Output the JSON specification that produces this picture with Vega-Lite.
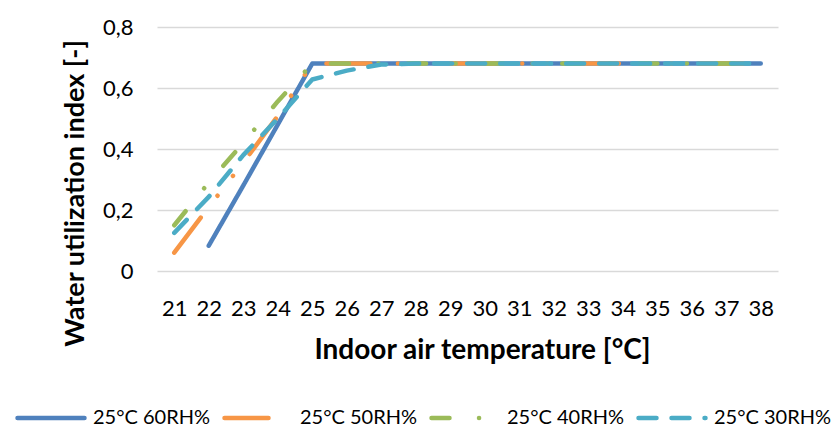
{
  "$schema": "https://vega.github.io/schema/vega-lite/v6.json",
  "width": 621,
  "height": 244,
  "autosize": {"type": "none"},
  "padding": {"left": 157, "top": 27, "right": 60, "bottom": 174},
  "background": "white",
  "config": {
    "font": "Lato",
    "view": {"stroke": null},
    "axis": {"labelFont": "Lato", "titleFont": "Lato", "labelColor": "#000", "titleColor": "#000"}
  },
  "data": {
    "values": [
      {"t": 22, "s": "25°C 60RH%", "v": 0.083},
      {"t": 23, "s": "25°C 60RH%", "v": 0.28},
      {"t": 24, "s": "25°C 60RH%", "v": 0.48},
      {"t": 25, "s": "25°C 60RH%", "v": 0.68},
      {"t": 26, "s": "25°C 60RH%", "v": 0.68},
      {"t": 27, "s": "25°C 60RH%", "v": 0.68},
      {"t": 28, "s": "25°C 60RH%", "v": 0.68},
      {"t": 29, "s": "25°C 60RH%", "v": 0.68},
      {"t": 30, "s": "25°C 60RH%", "v": 0.68},
      {"t": 31, "s": "25°C 60RH%", "v": 0.68},
      {"t": 32, "s": "25°C 60RH%", "v": 0.68},
      {"t": 33, "s": "25°C 60RH%", "v": 0.68},
      {"t": 34, "s": "25°C 60RH%", "v": 0.68},
      {"t": 35, "s": "25°C 60RH%", "v": 0.68},
      {"t": 36, "s": "25°C 60RH%", "v": 0.68},
      {"t": 37, "s": "25°C 60RH%", "v": 0.68},
      {"t": 38, "s": "25°C 60RH%", "v": 0.68},
      {"t": 21, "s": "25°C 50RH%", "v": 0.06},
      {"t": 22, "s": "25°C 50RH%", "v": 0.21},
      {"t": 23, "s": "25°C 50RH%", "v": 0.355},
      {"t": 24, "s": "25°C 50RH%", "v": 0.508},
      {"t": 25, "s": "25°C 50RH%", "v": 0.68},
      {"t": 26, "s": "25°C 50RH%", "v": 0.68},
      {"t": 27, "s": "25°C 50RH%", "v": 0.68},
      {"t": 28, "s": "25°C 50RH%", "v": 0.68},
      {"t": 29, "s": "25°C 50RH%", "v": 0.68},
      {"t": 30, "s": "25°C 50RH%", "v": 0.68},
      {"t": 31, "s": "25°C 50RH%", "v": 0.68},
      {"t": 32, "s": "25°C 50RH%", "v": 0.68},
      {"t": 33, "s": "25°C 50RH%", "v": 0.68},
      {"t": 34, "s": "25°C 50RH%", "v": 0.68},
      {"t": 35, "s": "25°C 50RH%", "v": 0.68},
      {"t": 36, "s": "25°C 50RH%", "v": 0.68},
      {"t": 37, "s": "25°C 50RH%", "v": 0.68},
      {"t": 38, "s": "25°C 50RH%", "v": 0.68},
      {"t": 21, "s": "25°C 40RH%", "v": 0.15},
      {"t": 22, "s": "25°C 40RH%", "v": 0.29},
      {"t": 23, "s": "25°C 40RH%", "v": 0.42},
      {"t": 24, "s": "25°C 40RH%", "v": 0.556},
      {"t": 25, "s": "25°C 40RH%", "v": 0.68},
      {"t": 26, "s": "25°C 40RH%", "v": 0.68},
      {"t": 27, "s": "25°C 40RH%", "v": 0.68},
      {"t": 28, "s": "25°C 40RH%", "v": 0.68},
      {"t": 29, "s": "25°C 40RH%", "v": 0.68},
      {"t": 30, "s": "25°C 40RH%", "v": 0.68},
      {"t": 31, "s": "25°C 40RH%", "v": 0.68},
      {"t": 32, "s": "25°C 40RH%", "v": 0.68},
      {"t": 33, "s": "25°C 40RH%", "v": 0.68},
      {"t": 34, "s": "25°C 40RH%", "v": 0.68},
      {"t": 35, "s": "25°C 40RH%", "v": 0.68},
      {"t": 36, "s": "25°C 40RH%", "v": 0.68},
      {"t": 37, "s": "25°C 40RH%", "v": 0.68},
      {"t": 38, "s": "25°C 40RH%", "v": 0.68},
      {"t": 21, "s": "25°C 30RH%", "v": 0.125},
      {"t": 22, "s": "25°C 30RH%", "v": 0.243},
      {"t": 23, "s": "25°C 30RH%", "v": 0.38},
      {"t": 24, "s": "25°C 30RH%", "v": 0.5},
      {"t": 25, "s": "25°C 30RH%", "v": 0.628},
      {"t": 26, "s": "25°C 30RH%", "v": 0.657},
      {"t": 27, "s": "25°C 30RH%", "v": 0.677},
      {"t": 28, "s": "25°C 30RH%", "v": 0.68},
      {"t": 29, "s": "25°C 30RH%", "v": 0.68},
      {"t": 30, "s": "25°C 30RH%", "v": 0.68},
      {"t": 31, "s": "25°C 30RH%", "v": 0.68},
      {"t": 32, "s": "25°C 30RH%", "v": 0.68},
      {"t": 33, "s": "25°C 30RH%", "v": 0.68},
      {"t": 34, "s": "25°C 30RH%", "v": 0.68},
      {"t": 35, "s": "25°C 30RH%", "v": 0.68},
      {"t": 36, "s": "25°C 30RH%", "v": 0.68},
      {"t": 37, "s": "25°C 30RH%", "v": 0.68},
      {"t": 38, "s": "25°C 30RH%", "v": 0.68}
    ]
  },
  "mark": {"type": "line", "strokeWidth": 4.5, "strokeCap": "round", "strokeJoin": "round"},
  "encoding": {
    "x": {
      "field": "t", "type": "ordinal",
      "scale": {"type": "point", "padding": 0.5},
      "axis": {
        "title": "Indoor air temperature [°C]",
        "titleFontSize": 28, "titleFontWeight": "bold",
        "titleX": 325, "titleY": 79, "titleBaseline": "middle",
        "labelAngle": 0, "labelFontSize": 22, "labelPadding": 27,
        "ticks": false, "domain": false, "grid": false
      }
    },
    "y": {
      "field": "v", "type": "quantitative",
      "scale": {"domain": [0, 0.8]},
      "axis": {
        "title": "Water utilization index [-]",
        "titleFontSize": 27, "titleFontWeight": "bold",
        "titleX": -82, "titleY": 166, "titleAngle": -90, "titleBaseline": "middle", "titleAlign": "center",
        "values": [0, 0.2, 0.4, 0.6, 0.8],
        "labelExpr": "datum.value == 0 ? '0' : replace(format(datum.value, '.1f'), '.', ',')",
        "labelFontSize": 22, "labelPadding": 24,
        "ticks": false, "domain": false,
        "gridColor": "#d9d9d9", "gridWidth": 1.5
      }
    },
    "color": {
      "field": "s", "type": "nominal",
      "scale": {
        "domain": ["25°C 60RH%", "25°C 50RH%", "25°C 40RH%", "25°C 30RH%"],
        "range": ["#4F81BD", "#F79646", "#9BBB59", "#4BACC6"]
      },
      "legend": {
        "title": null, "orient": "none", "direction": "horizontal",
        "legendX": -142, "legendY": 355,
        "symbolType": "stroke", "symbolSize": 4489, "symbolStrokeWidth": 4.5,
        "labelFontSize": 20, "labelFont": "Lato", "labelColor": "#000",
        "labelOffset": 6, "columnPadding": 5,
        "encode": {"symbols": {"update": {"strokeCap": {"value": "round"}}}}
      }
    },
    "strokeDash": {
      "field": "s", "type": "nominal",
      "scale": {
        "domain": ["25°C 60RH%", "25°C 50RH%", "25°C 40RH%", "25°C 30RH%"],
        "range": [[1, 0], [44, 27.5, 0.1, 25, 0.1, 27.5], [18, 29.5, 0.1, 29.5], [18, 15]]
      },
      "legend": null
    }
  }
}
